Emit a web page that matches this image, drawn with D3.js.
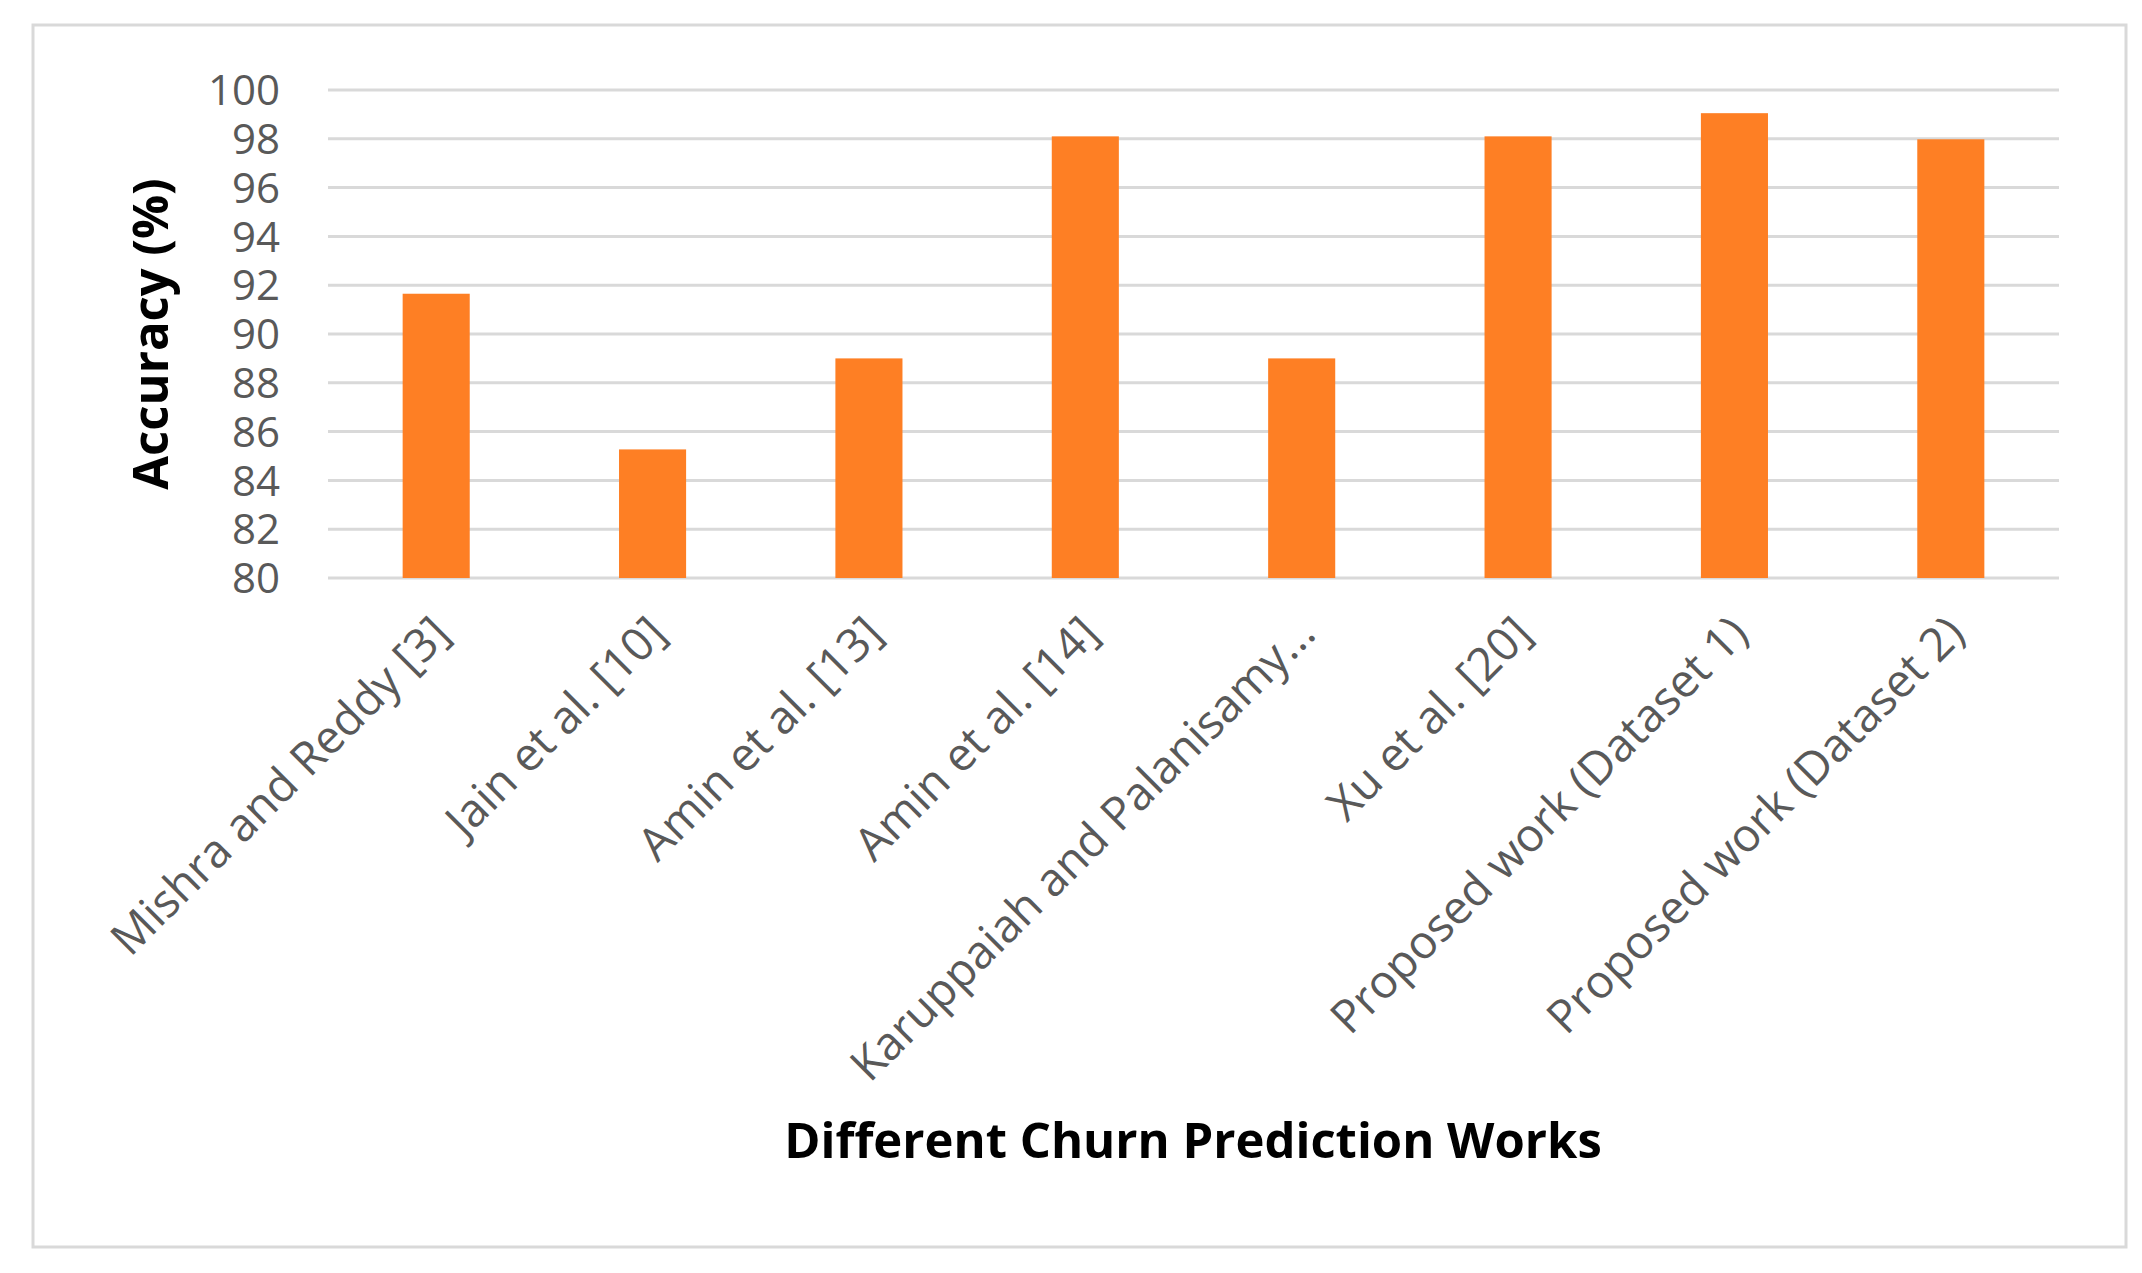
<!DOCTYPE html>
<html>
    <head>
        <meta charset="utf-8">
        <script src="https://cdn.jsdelivr.net/npm/d3@7/dist/d3.min.js"></script>
        <style type="text/css">
            body{
                margin: 0;
                padding: 0;
                background-color: #FFFFFF;
            }
            text{ font-family: "Open Sans", "Noto Sans", sans-serif; }
        </style>
    </head>
    <body>
    <div id="chart"></div>
    </body>
</html>

<script>
    var categories = ["Mishra and Reddy [3]", "Jain et al. [10]", "Amin et al. [13]", "Amin et al. [14]",
                      "Karuppaiah and Palanisamy...", "Xu et al. [20]", "Proposed work (Dataset 1)", "Proposed work (Dataset 2)"];
    var accuracy = [91.65, 85.27, 89.0, 98.1, 89.0, 98.1, 99.05, 97.98];
    var yTicks = [80, 82, 84, 86, 88, 90, 92, 94, 96, 98, 100];
    var yTitle = "Accuracy (%)";
    var xTitle = "Different Churn Prediction Works";

    drawChart();

    function drawChart() {
        var W = 2142, H = 1273;
        var pLeft = 328, pRight = 2059, pTop = 90, pBottom = 578;

        var svg = d3.select("#chart")
            .append("svg")
            .attr("width", W)
            .attr("height", H);

        svg.append("rect")
            .attr("x", 33).attr("y", 25)
            .attr("width", 2093).attr("height", 1222)
            .attr("fill", "#fff")
            .attr("stroke", "#d9d9d9")
            .attr("stroke-width", 3);

        var x = d3.scaleBand()
            .domain(categories)
            .range([pLeft, pRight])
            .paddingInner(0.69)
            .paddingOuter(0.345);

        var y = d3.scaleLinear()
            .domain([80, 100])
            .range([pBottom, pTop]);

        // gridlines
        svg.selectAll("line.grid")
            .data(yTicks)
            .enter().append("line")
            .attr("class", "grid")
            .attr("x1", pLeft).attr("x2", pRight)
            .attr("y1", function(d){ return y(d); })
            .attr("y2", function(d){ return y(d); })
            .attr("stroke", "#d9d9d9")
            .attr("stroke-width", 3);

        svg.selectAll("text.ytick")
            .data(yTicks)
            .enter().append("text")
            .attr("class", "ytick")
            .attr("x", 280)
            .attr("y", function(d){ return y(d); })
            .attr("dy", "0.36em")
            .attr("text-anchor", "end")
            .attr("font-size", 42)
            .attr("fill", "#595959")
            .text(function(d){ return d; });

        svg.selectAll("rect.bar")
            .data(accuracy)
            .enter().append("rect")
            .attr("class", "bar")
            .attr("x", function(d, i){ return x(categories[i]); })
            .attr("y", function(d){ return y(d); })
            .attr("width", x.bandwidth())
            .attr("height", function(d){ return y(80) - y(d); })
            .attr("fill", "#fe7f24");

        svg.selectAll("text.xlab")
            .data(categories)
            .enter().append("text")
            .attr("class", "xlab")
            .attr("transform", function(d){
                var cx = x(d) + x.bandwidth() / 2 + 16;
                return "translate(" + cx + "," + (pBottom + 58) + ") rotate(-45)";
            })
            .attr("text-anchor", "end")
            .attr("font-size", 46)
            .attr("fill", "#595959")
            .text(function(d){ return d; });

        svg.append("text")
            .attr("transform", "translate(168," + ((pTop + pBottom) / 2) + ") rotate(-90)")
            .attr("text-anchor", "middle")
            .attr("font-size", 49)
            .attr("font-weight", "bold")
            .attr("fill", "#000")
            .text(yTitle);

        svg.append("text")
            .attr("x", 1193)
            .attr("y", 1158)
            .attr("text-anchor", "middle")
            .attr("font-size", 49)
            .attr("font-weight", "bold")
            .attr("fill", "#000")
            .text(xTitle);
    }
</script>
